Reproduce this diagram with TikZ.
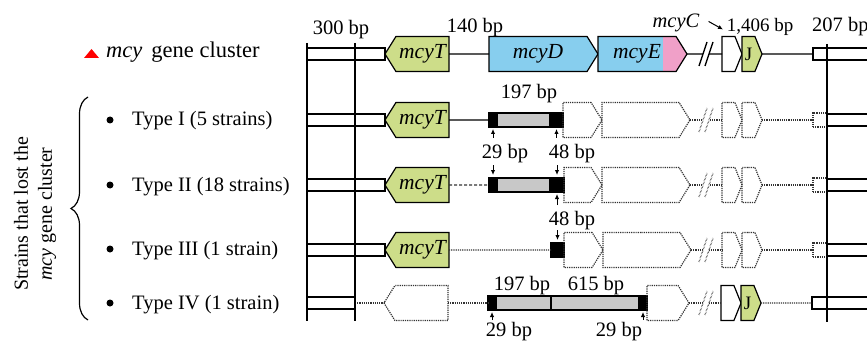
\documentclass[tikz,border=0pt]{standalone}
\usepackage{fontspec}
\setmainfont{Liberation Serif}
\usetikzlibrary{shapes.symbols, arrows.meta, positioning, decorations.pathreplacing}

\definecolor{mcygreen}{RGB}{205,221,137}
\definecolor{mcyblue}{RGB}{135,206,238}
\definecolor{mcypink}{RGB}{240,160,200}
\definecolor{delgray}{RGB}{200,200,200}

\begin{document}
\begin{tikzpicture}[x=1pt, y=-1pt, node distance=0pt, font=\fontsize{20.5}{24}\selectfont,
          flank/.style={rectangle, draw=black, line width=2pt, fill=white, minimum height=12.5pt, inner sep=0pt, outer sep=0pt},
          gene/.style={signal, draw=black, line width=1.2pt, minimum height=35pt, inner sep=0pt, outer sep=0pt, signal pointer angle=116, font=\fontsize{21.5}{24}\selectfont\itshape},
          geneR/.style={gene, signal to=east, signal from=nowhere},
          geneL/.style={gene, signal to=west, signal from=nowhere},
          small/.style={minimum width=20pt, signal pointer angle=136, font=\fontsize{19}{22}\selectfont},
          ghost/.style={draw=black!80, densely dotted, fill=none},
          delblk/.style={rectangle, draw=black, fill=black, line width=1.2pt, minimum height=14pt, inner sep=0pt, outer sep=0pt},
          delgry/.style={delblk, fill=delgray},
          ghostbox/.style={rectangle, draw=black!80, densely dotted, line width=1.2pt, minimum size=14pt, inner sep=0pt, outer sep=0pt},
          link/.style={line width=1.2pt},
          dlink/.style={link, draw=black!80, densely dotted},
          tick/.style={-{Latex[length=5pt,width=4.5pt]}, line width=1pt},
          bp/.style={inner sep=0pt, anchor=base},
          dot/.style={circle, fill=black, inner sep=0pt, minimum size=7pt},
          brk/.pic={\fill[white] (-7,12) -- (1,-12) -- (7,-12) -- (-1,12) -- cycle;
                    \draw[line width=1.3pt] (-7,12) -- (1,-12) (-1,12) -- (7,-12);}]

        \useasboundingbox (0,0) rectangle (867,342);

        % intact cluster
        \node [flank, minimum width=78pt, anchor=west] (f0) at (307,54) {};
        \node [geneL, fill=mcygreen, minimum width=64pt, right=0pt of f0] (t0) {mcyT};
        \node [geneR, fill=mcyblue, minimum width=109pt, right=40pt of t0] (d0) {mcyD};
        \node [geneR, fill=mcyblue, minimum width=89pt, right=0pt of d0,
               path picture={\fill[mcypink] ([xshift=-24pt]path picture bounding box.north east) rectangle (path picture bounding box.south east);}] (e0) {mcyE\hspace{20pt}};
        \node [geneR, small, fill=white, right=35pt of e0] (c0) {};
        \node [geneR, small, fill=mcygreen, right=0pt of c0] (j0) {\upshape J};
        \node [flank, minimum width=70pt, right=51pt of j0] (r0) {};

        % type I
        \node [flank, minimum width=78pt, anchor=west] (f1) at (307,120) {};
        \node [geneL, fill=mcygreen, minimum width=64pt, right=0pt of f1] (t1) {mcyT};
        \node [delblk, minimum width=8pt, right=40pt of t1] (a1) {};
        \node [delgry, minimum width=53pt, right=0pt of a1] (g1) {};
        \node [delblk, minimum width=13pt, right=0pt of g1] (b1) {};
        \node [geneR, ghost, minimum width=39pt, right=0pt of b1] (gd1) {};
        \node [geneR, ghost, minimum width=88pt, right=0pt of gd1] (ge1) {};
        \node [geneR, small, ghost, right=32pt of ge1] (gc1) {};
        \node [geneR, small, ghost, right=0pt of gc1] (gj1) {};
        \node [ghostbox, right=51pt of gj1] (gs1) {};
        \node [flank, minimum width=60pt, right=0pt of gs1] (r1) {};

        % type II
        \node [flank, minimum width=78pt, anchor=west] (f2) at (307,185) {};
        \node [geneL, fill=mcygreen, minimum width=64pt, right=0pt of f2] (t2) {mcyT};
        \node [delblk, minimum width=8pt, right=40pt of t2] (a2) {};
        \node [delgry, minimum width=53pt, right=0pt of a2] (g2) {};
        \node [delblk, minimum width=14pt, right=0pt of g2] (b2) {};
        \node [geneR, ghost, minimum width=38pt, right=0pt of b2] (gd2) {};
        \node [geneR, ghost, minimum width=88pt, right=0pt of gd2] (ge2) {};
        \node [geneR, small, ghost, right=32pt of ge2] (gc2) {};
        \node [geneR, small, ghost, right=0pt of gc2] (gj2) {};
        \node [ghostbox, right=51pt of gj2] (gs2) {};
        \node [flank, minimum width=60pt, right=0pt of gs2] (r2) {};

        % type III
        \node [flank, minimum width=78pt, anchor=west] (f3) at (307,250) {};
        \node [geneL, fill=mcygreen, minimum width=64pt, right=0pt of f3] (t3) {mcyT};
        \node [delblk, minimum width=13pt, right=102pt of t3] (b3) {};
        \node [geneR, ghost, minimum width=39pt, right=0pt of b3] (gd3) {};
        \node [geneR, ghost, minimum width=88pt, right=0pt of gd3] (ge3) {};
        \node [geneR, small, ghost, right=31pt of ge3] (gc3) {};
        \node [geneR, small, ghost, right=0pt of gc3] (gj3) {};
        \node [ghostbox, right=51pt of gj3] (gs3) {};
        \node [flank, minimum width=60pt, right=0pt of gs3] (r3) {};

        % type IV
        \node [flank, minimum width=48pt, anchor=west] (f4) at (307,303) {};
        \node [geneL, ghost, minimum width=64pt, right=29pt of f4] (gt4) {};
        \node [delblk, minimum width=8pt, right=40pt of gt4] (a4) {};
        \node [delgry, minimum width=55pt, right=0pt of a4] (g4) {};
        \node [delgry, minimum width=88pt, right=0pt of g4] (h4) {};
        \node [delblk, minimum width=8pt, right=0pt of h4] (b4) {};
        \node [geneR, ghost, minimum width=42pt, right=0pt of b4] (ge4) {};
        \node [geneR, small, fill=white, right=32pt of ge4] (c4) {};
        \node [geneR, small, fill=mcygreen, right=0pt of c4] (j4) {\upshape J};
        \node [flank, minimum width=70pt, right=51pt of j4] (r4) {};

        \draw [link] (t0) -- (d0);
        \draw [link] (e0) -- (c0);
        \draw [link] (j0) -- (r0);
        \draw [link] (t1) -- (a1);
        \draw [dlink] (ge1) -- (gc1);
        \draw [dlink] (gj1) -- (gs1);
        \draw [dlink, densely dashed] (t2) -- (a2);
        \draw [dlink] (ge2) -- (gc2);
        \draw [dlink] (gj2) -- (gs2);
        \draw [dlink] (t3) -- (b3);
        \draw [dlink] (ge3) -- (gc3);
        \draw [dlink] (gj3) -- (gs3);
        \draw [dlink] (f4) -- (gt4);
        \draw [dlink] (gt4) -- (a4);
        \draw [dlink] (ge4) -- (c4);
        \draw [dlink] (j4) -- (r4);

        \pic at (706,54) {brk};
        \pic [color=black!80, densely dotted] at (706,120) {brk};
        \pic [color=black!80, densely dotted] at (706,185) {brk};
        \pic [color=black!80, densely dotted] at (706,250) {brk};
        \pic [color=black!80, densely dotted] at (706,303) {brk};

        \draw [link] (307,43) -- (307,321);
        \draw [link] (355,43) -- (355,321);
        \draw [link] (827,44) -- (827,322);

        % sizes
        \node [bp] (l300) at (341,34.5) {300 bp};
        \node [bp] (l140) at (475,33) {140 bp};
        \node [bp, font=\fontsize{20.5}{24}\selectfont\itshape] (lc) at (676,28) {mcyC};
        \node [bp, font=\fontsize{19}{22}\selectfont] (l1406) at (760,32) {1,406 bp};
        \node [bp, anchor=base west] (l207) at (812,32) {207 bp};
        \node [bp] (l197a) at (529,99) {197 bp};
        \node [bp] (l29a) at (505,158) {29 bp};
        \node [bp] (l48a) at (572,158) {48 bp};
        \node [bp] (l48b) at (572,225) {48 bp};
        \node [bp] (l197b) at (522,290) {197 bp};
        \node [bp] (l615) at (596,290) {615 bp};
        \node [bp] (l29b) at (509,336.5) {29 bp};
        \node [bp] (l29c) at (619,336.5) {29 bp};

        \draw [tick] ([xshift=9pt,yshift=2pt]lc.east) -- ([xshift=1pt,yshift=7pt]c0.north west);
        \draw [tick] ([yshift=-11pt]a1.south) -- ([yshift=-2pt]a1.south);
        \draw [tick] ([yshift=-11pt]b1.south) -- ([yshift=-2pt]b1.south);
        \draw [tick] ([yshift=13pt]a2.north) -- ([yshift=3pt]a2.north);
        \draw [tick] ([yshift=13pt]b2.north) -- ([yshift=3pt]b2.north);
        \draw [tick] ([yshift=-13pt]b2.south) -- ([yshift=-2pt]b2.south);
        \draw [tick] ([yshift=13pt]b3.north) -- ([yshift=3pt]b3.north);
        \draw [tick] ([yshift=-10pt]a4.south) -- ([yshift=-2pt]a4.south);
        \draw [tick] ([yshift=-10pt]b4.south) -- ([yshift=-2pt]b4.south);

        % left labels
        \fill [red] (84,58) -- (99,58) -- (91.5,49) -- cycle;
        \node [bp, anchor=base west, font=\fontsize{22.5}{26}\selectfont] (lmcy) at (106,58) {\textit{mcy}\hspace{9pt}gene cluster};
        \node [dot] (p1) at (110,120) {};
        \node [dot] (p2) at (110,185) {};
        \node [dot] (p3) at (110,249) {};
        \node [dot] (p4) at (110,303) {};
        \node [bp, anchor=base west] (ty1) at (132,126) {Type I (5 strains)};
        \node [bp, anchor=base west] (ty2) at (132,191) {Type II (18 strains)};
        \node [bp, anchor=base west] (ty3) at (132,255) {Type III (1 strain)};
        \node [bp, anchor=base west] (ty4) at (132,309) {Type IV (1 strain)};
        \draw [link, decorate, decoration={brace, amplitude=17pt}] (88,320) -- (88,97);
        \node [rotate=90, align=center, inner sep=0pt, font=\fontsize{20}{24}\selectfont] (side) at (35,214) {Strains that lost the\\\textit{mcy} gene cluster};
      \end{tikzpicture}
\end{document}
